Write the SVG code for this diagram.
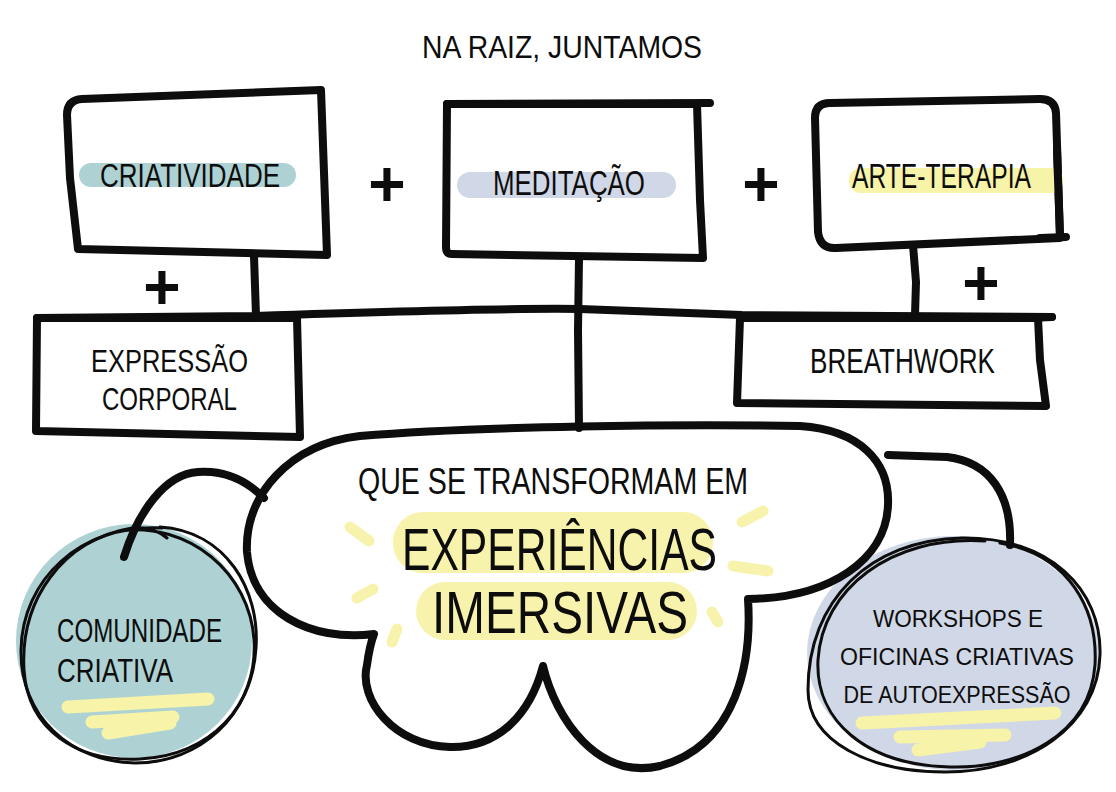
<svg xmlns="http://www.w3.org/2000/svg" width="1116" height="792" viewBox="0 0 1116 792">
<style>
.ln{fill:none;stroke:#0d0d0d;stroke-width:8;stroke-linecap:round;stroke-linejoin:round}
.bx{fill:#fff;stroke:#0d0d0d;stroke-width:8;stroke-linecap:round;stroke-linejoin:round}
.th{fill:none;stroke:#0d0d0d;stroke-width:3;stroke-linecap:round;stroke-linejoin:round}
.t{font-family:"Liberation Sans",Arial,sans-serif;fill:#0d0d0d}
.tm{font-family:"Liberation Sans",Arial,sans-serif;fill:#0d0d0d;text-anchor:middle}
.pl{font-family:"Liberation Sans",Arial,sans-serif;font-weight:bold;font-size:64px;fill:#0d0d0d;text-anchor:middle}
.ray{fill:none;stroke:#f7f3ad;stroke-width:11;stroke-linecap:round}
.hl{fill:none;stroke:#f7f3a8;stroke-width:13;stroke-linecap:round}
</style>
<rect width="1116" height="792" fill="#fff"/>

<g id="title">
<text class="t" x="422" y="58" font-size="32" textLength="280" lengthAdjust="spacingAndGlyphs">NA RAIZ, JUNTAMOS</text>
</g>

<g id="node-criatividade">
<path class="bx" d="M 321,90 L 82,99 Q 67,100 67,115 L 70,178 L 78,249 L 327,255 L 321,90"/>
<rect x="79" y="163" width="217" height="24" rx="12" fill="#aed2d3"/>
<text class="t" x="100" y="187" font-size="33" textLength="180" lengthAdjust="spacingAndGlyphs">CRIATIVIDADE</text>
</g>

<g id="node-meditacao">
<path class="bx" d="M 447,104 L 697,104 L 700,200 L 703,258 L 452,254 Q 446,254 446,247 Z"/>
<path class="ln" d="M 447,104 L 710,103"/>
<rect x="457" y="172" width="219" height="26" rx="13" fill="#d0d7e6"/>
<text class="t" x="493" y="195" font-size="35" textLength="152" lengthAdjust="spacingAndGlyphs">MEDITAÇÃO</text>
</g>

<g id="node-arteterapia">
<path class="bx" d="M 830,103 Q 815,103 815,118 L 818,232 Q 820,249 836,248 L 1060,238 L 1056,113 Q 1055,99 1040,99 Z"/>
<path class="ln" d="M 1040,238 L 1066,237"/>
<rect x="849" y="168" width="214" height="25" rx="12" fill="#f7f3a8"/>
<path class="ln" d="M 1057,150 L 1060,236"/>
<text class="t" x="852" y="188" font-size="35" textLength="179" lengthAdjust="spacingAndGlyphs">ARTE-TERAPIA</text>
</g>

<g id="node-expressao">
<path class="bx" d="M 37,318 L 297,318 L 300,437 L 36,431 Z"/>
<text class="t" x="91" y="372" font-size="32" textLength="157" lengthAdjust="spacingAndGlyphs">EXPRESSÃO</text>
<text class="t" x="102" y="410" font-size="32" textLength="135" lengthAdjust="spacingAndGlyphs">CORPORAL</text>
</g>

<g id="node-breathwork">
<path class="bx" d="M 740,318 L 1038,318 L 1040,360 L 1046,406 L 737,403 Z"/>
<path class="ln" d="M 1030,318 L 1052,317"/>
<text class="t" x="810" y="373" font-size="35" textLength="185" lengthAdjust="spacingAndGlyphs">BREATHWORK</text>
</g>

<g id="node-comunidade">
<ellipse cx="134" cy="641" rx="118" ry="117" fill="#aed2d3"/>
<path class="th" d="M 160,527 C 226,531 260,590 256,648 C 252,716 200,763 135,763 C 70,762 20,716 21,650 C 22,580 80,524 162,528"/>
<path class="th" d="M 118,531 C 190,521 250,574 254,640 C 258,706 210,756 140,759 C 76,762 28,730 24,670 C 20,600 62,540 132,528 C 150,526 160,532 167,538"/>
<path class="hl" d="M 68,707 L 208,699"/>
<path class="hl" d="M 92,722 L 173,717"/>
<path class="hl" d="M 108,733 L 170,723"/>
<text class="t" x="57" y="642" font-size="33" textLength="165" lengthAdjust="spacingAndGlyphs">COMUNIDADE</text>
<text class="t" x="57" y="682" font-size="33" textLength="116" lengthAdjust="spacingAndGlyphs">CRIATIVA</text>
</g>

<g id="node-workshops">
<ellipse cx="953" cy="653" rx="146" ry="117" fill="#d0d7e6"/>
<path class="th" d="M 960,538 C 1050,536 1102,590 1100,655 C 1098,725 1030,772 945,772 C 870,772 808,742 808,690 C 808,600 870,540 962,538"/>
<path class="th" d="M 1000,543 C 1070,555 1098,610 1095,665 C 1090,735 1020,769 950,767 C 865,765 815,720 818,660 C 822,590 890,535 985,541"/>
<path class="hl" d="M 862,723 L 1055,713"/>
<path class="hl" d="M 900,737 L 1005,735"/>
<path class="hl" d="M 918,750 L 980,742"/>
<text class="tm" x="958" y="627" font-size="24" textLength="170" lengthAdjust="spacingAndGlyphs">WORKSHOPS E</text>
<text class="tm" x="957" y="665" font-size="24" textLength="234" lengthAdjust="spacingAndGlyphs">OFICINAS CRIATIVAS</text>
<text class="tm" x="957" y="703" font-size="24" textLength="227" lengthAdjust="spacingAndGlyphs">DE AUTOEXPRESSÃO</text>
</g>

<g id="node-cloud">
<path class="bx" d="M 374,634 C 310,642 252,612 247,552 C 244,495 290,444 360,436 C 480,426 680,424 800,426 C 860,430 890,462 888,505 C 886,560 830,598 748,599 C 752,660 738,745 660,766 C 598,780 556,720 543,666 C 530,715 498,748 450,747 C 395,746 358,700 367,665 C 369,650 371,642 374,634 Z"/>
<rect x="393" y="512" width="320" height="61" rx="30" fill="#f7f3ad"/>
<rect x="416" y="582" width="281" height="58" rx="29" fill="#f7f3ad"/>
<path class="ray" d="M 350,527 L 369,541"/>
<path class="ray" d="M 357,598 L 373,589"/>
<path class="ray" d="M 392,642 L 397,629"/>
<path class="ray" d="M 742,522 L 763,511"/>
<path class="ray" d="M 733,566 L 768,571"/>
<path class="ray" d="M 712,612 L 718,622"/>
<text class="t" x="358" y="494" font-size="36" textLength="390" lengthAdjust="spacingAndGlyphs">QUE SE TRANSFORMAM EM</text>
<text class="t" x="402" y="570" font-size="60" textLength="315" lengthAdjust="spacingAndGlyphs">EXPERIÊNCIAS</text>
<text class="t" x="432" y="633" font-size="60" textLength="256" lengthAdjust="spacingAndGlyphs">IMERSIVAS</text>
</g>

<g id="connectors">
<path class="ln" d="M 37,318 L 255,316 C 400,311 500,308 580,309 L 742,315 L 1052,317"/>
<path class="ln" stroke-width="7" d="M 254,256 L 256,316"/>
<path class="ln" stroke-width="7" d="M 579,258 L 578,330 L 579,428"/>
<path class="ln" stroke-width="7" d="M 913,245 L 916,282 L 915,315"/>
<path class="ln" stroke-width="11" d="M 124,557 C 138,512 165,474 198,472 C 228,470 250,484 264,498"/>
<path class="ln" stroke-width="11" d="M 888,455 L 947,457 C 990,462 1012,495 1010,545"/>
</g>

<g id="plus-signs">
<text class="pl" x="387" y="206">+</text>
<text class="pl" x="761" y="206">+</text>
<text class="pl" x="162" y="309">+</text>
<text class="pl" x="981" y="305">+</text>
</g>
</svg>
